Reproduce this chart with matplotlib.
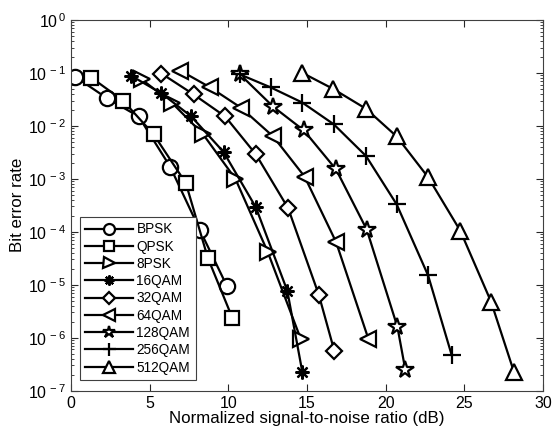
import numpy as np
import matplotlib
matplotlib.use("Agg")
import matplotlib.pyplot as plt
from matplotlib.ticker import FuncFormatter

plt.rcParams['font.family'] = ['Liberation Sans', 'DejaVu Sans']

labels = ['BPSK', 'QPSK', '8PSK', '16QAM', '32QAM', '64QAM', '128QAM', '256QAM', '512QAM']

snr_bpsk = [0.25, 2.3, 4.3, 6.3, 8.2, 9.9]
ber_bpsk = [0.085, 0.033, 0.015, 1.7e-3, 1.07e-4, 9.6e-6]

snr_qpsk = [1.3, 3.3, 5.25, 7.3, 8.7, 10.25]
ber_qpsk = [0.081, 0.030, 6.9e-3, 8.3e-4, 3.2e-5, 2.4e-6]

snr_8psk = [4.5, 6.4, 8.4, 10.45, 12.5, 14.6]
ber_8psk = [0.075, 0.0275, 6.9e-3, 1.0e-3, 4.2e-5, 9.6e-7]

snr_16qam = [3.8, 5.75, 7.65, 9.7, 11.75, 13.75, 14.7]
ber_16qam = [0.089, 0.041, 0.015, 3.2e-3, 2.9e-4, 7.7e-6, 2.3e-7]

snr_32qam = [5.75, 7.8, 9.8, 11.75, 13.8, 15.75, 16.75]
ber_32qam = [0.097, 0.039, 0.015, 2.9e-3, 2.8e-4, 6.5e-6, 5.5e-7]

snr_64qam = [6.95, 8.85, 10.8, 12.85, 14.85, 16.85, 18.9]
ber_64qam = [0.11, 0.053, 0.022, 6.3e-3, 1.1e-3, 6.4e-5, 9.6e-7]

snr_128qam = [10.75, 12.85, 14.8, 16.85, 18.8, 20.75, 21.25]
ber_128qam = [0.093, 0.023, 8.2e-3, 1.5e-3, 1.1e-4, 1.6e-6, 2.5e-7]

snr_256qam = [10.75, 12.7, 14.7, 16.7, 18.75, 20.7, 22.7, 24.2]
ber_256qam = [0.093, 0.053, 0.0275, 0.0107, 2.7e-3, 3.3e-4, 1.5e-5, 4.7e-7]

snr_512qam = [14.7, 16.65, 18.75, 20.7, 22.7, 24.75, 26.7, 28.15]
ber_512qam = [0.1, 0.05, 0.021, 6.3e-3, 1.07e-3, 1.04e-4, 4.8e-6, 2.3e-7]

snrs = [snr_bpsk, snr_qpsk, snr_8psk, snr_16qam, snr_32qam, snr_64qam, snr_128qam, snr_256qam, snr_512qam]
bers = [ber_bpsk, ber_qpsk, ber_8psk, ber_16qam, ber_32qam, ber_64qam, ber_128qam, ber_256qam, ber_512qam]
markers = ['o', 's', '>', (8, 2, 0), 'D', '<', '*', '+', '^']
sizes = [11, 10, 11, 10, 8.5, 12, 13, 13, 12]

fig = plt.figure(figsize=(5.52, 4.41), dpi=100)
ax = fig.add_axes([0.1286, 0.114, 0.855, 0.841])

for x, y, m, s, lab in zip(snrs, bers, markers, sizes, labels):
    ax.semilogy(x, y, color='black', lw=1.6, marker=m, markersize=s,
                markerfacecolor='white', markeredgecolor='black',
                markeredgewidth=1.6, label=lab)

ax.set_xlim(0, 30)
ax.set_ylim(1e-7, 1)
ax.set_xticks([0, 5, 10, 15, 20, 25, 30])
ax.yaxis.set_major_formatter(FuncFormatter(
    lambda v, p: r'$\mathdefault{10^{\,%d}}$' % round(np.log10(v))))
ax.tick_params(which='both', direction='in', top=True, right=True,
               labelsize=11.5, colors='#262626', labelcolor='black')
ax.tick_params(which='major', length=5)
ax.tick_params(which='minor', length=2.5)
ax.set_xlabel('Normalized signal-to-noise ratio (dB)', fontsize=12.2, labelpad=0)
ax.set_ylabel('Bit error rate', fontsize=12.2, labelpad=2)

for sp in ax.spines.values():
    sp.set_color('#404040')

leg = ax.legend(loc='lower left', bbox_to_anchor=(0.019, 0.029), borderaxespad=0,
                fontsize=9.8, markerscale=0.72,
                handlelength=3.5, handletextpad=0.25, labelspacing=0.24,
                borderpad=0.4, fancybox=False, framealpha=1)
leg.get_frame().set_edgecolor('#404040')
leg.get_frame().set_linewidth(0.8)

fig.savefig('out.png', dpi=100)
